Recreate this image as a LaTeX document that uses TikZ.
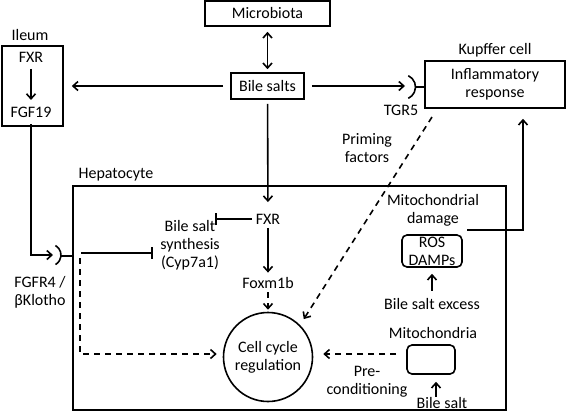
\documentclass[tikz,border=0pt]{standalone}
\usepackage{fontspec}
\setmainfont{Carlito}
\usetikzlibrary{arrows.meta}

\begin{document}
\begin{tikzpicture}[x=1pt,y=-1pt,line width=1.6pt,
  >={Straight Barb[length=5pt,width=9pt]},
  every node/.style={font=\fontsize{16}{18}\selectfont},
  box/.style={draw,rectangle,inner sep=0pt},
  rbox/.style={draw,rectangle,rounded corners=5pt,inner sep=0pt},
  txt/.style={align=center,inner sep=0pt},
  inhib/.style={-{Bar[width=12pt]}},
  dashedarrow/.style={->,dash pattern=on 6pt off 5pt}]
\useasboundingbox (0,0) rectangle (567,413);

% top row
\node[box,minimum width=125pt,minimum height=25pt] (micro) at (267.5,13.5) {Microbiota};
\node[box,minimum width=73pt,minimum height=26pt] (bile) at (267.5,86) {Bile salts};
\draw[<->,shorten <=5pt,shorten >=3pt] (micro) -- (bile);

% ileum
\node[box,minimum width=61pt,minimum height=80pt] (ileum) at (32.5,86) {};
\node[txt] (ileumlbl) at (30,35) {Ileum};
\node[txt] (ifxr) at (31,57) {FXR};
\node[txt] (fgf) at (31,112) {FGF19};
\draw[->,shorten <=6pt,shorten >=6pt] (ifxr) -- (fgf);
\draw[->,shorten <=7pt,shorten >=8pt] (bile) -- (ileum);

% kupffer cell
\node[box,txt,minimum width=140pt,minimum height=47pt] (kupffer) at (495,84.5) {Inflammatory\\response};
\node[txt] (kupfferlbl) at (495,50) {Kupffer cell};
\coordinate (tgrin) at (405,86);
\coordinate (tgr) at (415.5,87);
\draw[->,shorten <=7pt] (bile) -- (tgrin);
\draw (403,87) +(-65:12.5) arc (-65:65:12.5);
\draw (tgr) -- (kupffer.west |- tgr);
\node[txt] (tgrlbl) at (401,110) {TGR5};

% hepatocyte
\node[box,minimum width=433pt,minimum height=224pt] (hep) at (289.5,298) {};
\node[txt] (heplbl) at (116,175) {Hepatocyte};
\node[txt] (hfxr) at (268,219) {FXR};
\node[txt] (synth) at (190,245) {Bile salt\\synthesis\\(Cyp7a1)};
\node[txt] (foxm) at (268,283) {Foxm1b};
\node[draw,circle,txt,minimum size=89pt] (cycle) at (268,357) {Cell cycle\\regulation};
\draw[->,shorten <=4pt,shorten >=11pt] (bile) -- (hfxr);
\draw[inhib,shorten <=3pt,shorten >=-5pt] (hfxr) -- (hfxr -| synth.east);
\draw[->,shorten <=3pt,shorten >=4pt] (hfxr) -- (foxm);
\draw[dashedarrow,shorten <=3pt,shorten >=2pt] (foxm) -- (cycle);

% FGFR4 / bKlotho
\coordinate (fgfin) at (53,255);
\draw[->,shorten <=6pt] (fgf) |- (fgfin);
\draw (50,255) +(-60:11) arc (-60:60:11);
\coordinate (fgfr) at (61,256);
\draw (fgfr) -- (hep.west |- fgfr);
\node[txt] (fgfrlbl) at (40,292) {FGFR4 /\\βKlotho};
\coordinate (fgsig) at (81,253);
\draw[inhib,shorten >=7pt] (fgsig) -- (fgsig -| synth.west);
\coordinate (fgdash) at (80,258);
\draw[dashedarrow,shorten >=6pt] (fgdash) |- ([yshift=3pt]cycle.west);

% priming
\node[txt] (priming) at (367,148) {Priming\\factors};
\coordinate (prim) at (432,117);
\draw[dashedarrow,shorten >=7pt] (prim) -- (cycle.45);

% mitochondria
\node[txt] (mitodmg) at (433,210) {Mitochondrial\\damage};
\node[rbox,txt,minimum width=60pt,minimum height=32pt] (ros) at (432,251) {ROS\\DAMPs};
\node[txt] (excess) at (432,304) {Bile salt excess};
\node[txt] (mitolbl) at (433,333) {Mitochondria};
\node[rbox,minimum width=48pt,minimum height=29pt] (mito) at (431,359.5) {};
\node[txt] (bsalt) at (442,403) {Bile salt};
\node[txt] (precond) at (367,382) {Pre-\\conditioning};
\draw[->,shorten <=7pt,shorten >=6pt] (excess) -- (ros);
\draw[->,shorten >=7pt] ([xshift=-6pt]bsalt.north) -- ([xshift=-6pt]bsalt.north |- mito.south);
\draw[dashedarrow,shorten <=10pt,shorten >=10pt] ([yshift=3pt]cycle.east -| mito.west) -- ([yshift=3pt]cycle.east);
\coordinate (dmg) at (467,230);
\draw[->,shorten >=10pt] (dmg) -| ([xshift=28pt]kupffer.south);
\end{tikzpicture}
\end{document}
